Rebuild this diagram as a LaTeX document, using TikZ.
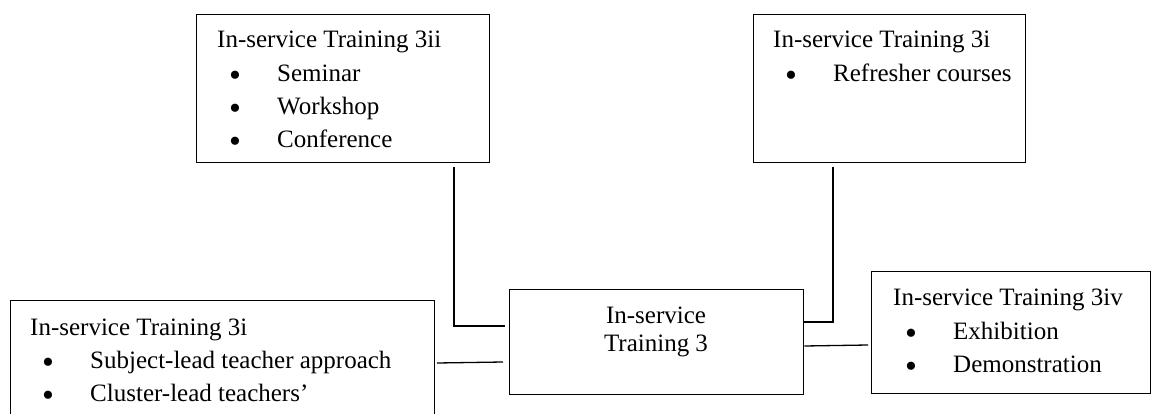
\documentclass[tikz,border=0pt]{standalone}
\usepackage{fontspec}
\setmainfont{Liberation Serif}
\begin{document}
\begin{tikzpicture}[x=1pt,y=-1pt,
  box/.style={draw,line width=1.3pt,anchor=north west,inner sep=0pt},
  txt/.style={anchor=base west,inner sep=0pt,font=\fontsize{25}{30}\selectfont},
  ctxt/.style={anchor=base,inner sep=0pt,font=\fontsize{25}{30}\selectfont},
  bul/.style={anchor=base,inner sep=0pt,font=\fontsize{34}{34}\selectfont},
  conn/.style={line width=1.3pt}]
\useasboundingbox (0,0) rectangle (1153,414);
\clip (0,0) rectangle (1153,414);
% boxes
\node[box,minimum width=293pt,minimum height=148pt] (b2) at (196,14) {};
\node[box,minimum width=272pt,minimum height=148pt] (b1) at (753,14) {};
\node[box,minimum width=294pt,minimum height=105pt] (ctr) at (509,289) {};
\node[box,minimum width=424pt,minimum height=130pt] (lb) at (10,300) {};
\node[box,minimum width=279pt,minimum height=122pt] (b4) at (871,271) {};
% texts box 3ii
\node[txt] (t2) at (217,48) {In-service Training 3ii};
\node[bul] (t2b1) at (235,87) {•};
\node[txt] (t2i1) at (277,82) {Seminar};
\node[bul] (t2b2) at (235,120) {•};
\node[txt] (t2i2) at (277,115) {Workshop};
\node[bul] (t2b3) at (235,153) {•};
\node[txt] (t2i3) at (277,148) {Conference};
% texts box 3i (top)
\node[txt] (t1) at (773,48) {In-service Training 3i};
\node[bul] (t1b1) at (791,87) {•};
\node[txt] (t1i1) at (833,82) {Refresher courses};
% central
\node[ctxt] (tc1) at (656,323) {In-service};
\node[ctxt] (tc2) at (656,351) {Training 3};
% left box
\node[txt] (tl) at (30,335) {In-service Training 3i};
\node[bul] (tlb1) at (48,373) {•};
\node[txt] (tli1) at (90,368) {Subject-lead teacher approach};
\node[bul] (tlb2) at (48,406) {•};
\node[txt] (tli2) at (90,401) {Cluster-lead teachers’};
% box 3iv
\node[txt] (t4) at (893,305) {In-service Training 3iv};
\node[bul] (t4b1) at (911,344) {•};
\node[txt] (t4i1) at (953,339) {Exhibition};
\node[bul] (t4b2) at (911,377) {•};
\node[txt] (t4i2) at (953,372) {Demonstration};
% connectors
\coordinate (c1a) at (454,167);
\coordinate (c1b) at (505,326);
\draw[conn] (c1a) |- (c1b);
\coordinate (c2a) at (437,363);
\coordinate (c2b) at (503,362);
\draw[conn] (c2a) -- (c2b);
\coordinate (c3a) at (833,167);
\draw[conn] (c3a) |- (ctr.east |- 0,322);
\coordinate (c4b) at (868,345);
\draw[conn] (ctr.east |- 0,346) -- (c4b);
\end{tikzpicture}
\end{document}
